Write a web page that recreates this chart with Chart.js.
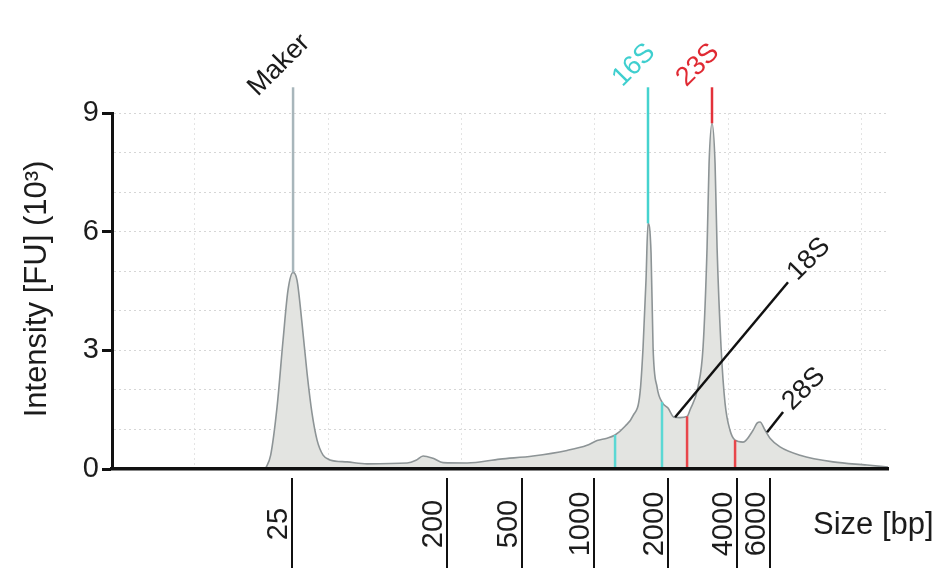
<!DOCTYPE html>
<html><head><meta charset="utf-8">
<script src="https://cdn.jsdelivr.net/npm/chart.js@4/dist/chart.umd.min.js"></script>
<style>html,body{margin:0;padding:0;background:#fff}canvas{display:block}</style>
</head><body>
<canvas id="c" width="944" height="568"></canvas>
<script>
// ---- data (migration time in s, intensity in 10^3 FU) ----
const traceTime = [25.3,25.7,26.18,26.63,27.0,27.38,27.68,28.05,28.43,28.8,29.18,29.63,30.15,31.43,32.93,35.93,36.6,37.13,37.88,38.63,40.43,42.9,45.38,47.93,49.43,50.18,50.93,51.53,52.28,52.88,53.4,53.63,53.85,54.0,54.23,54.38,54.68,55.05,55.5,55.95,56.4,56.93,57.15,57.75,58.13,58.43,58.58,58.8,59.03,59.18,59.48,59.78,60.15,60.53,61.13,61.88,62.18,62.4,62.78,63.15,63.9,65.4,67.88,70.43,72.0];
const traceIntensity = [0,0.35,1.57,3.26,4.52,4.97,4.77,3.69,2.42,1.41,0.73,0.35,0.23,0.18,0.13,0.15,0.22,0.33,0.27,0.16,0.15,0.25,0.33,0.47,0.6,0.72,0.78,0.86,1.08,1.35,1.92,3.08,4.77,6.21,5.45,3.08,2.07,1.69,1.54,1.31,1.3,1.33,1.49,2.07,3.08,5.6,7.72,8.74,7.72,5.6,3.08,1.66,0.98,0.73,0.68,0.98,1.16,1.19,0.98,0.78,0.56,0.35,0.18,0.1,0.05];
const xGridTicks = [20,30,40,50,60,70];
const yTickValues = [0,1,2,3,4,5,6,7,8,9];
const yLabeledTicks = [0,3,6,9];
const sizeLabels = ['25','200','500','1000','2000','4000','6000'];
const sizeTimes = [27.3,38.93,44.55,49.95,55.5,60.68,63.15];
const peakLabels = ['Maker','16S','23S'];
const peakTimes = [27.38,54.0,58.8];
const peakTops = [4.97,6.21,8.74];
const peakLineEnd = 9.65;
const fractionTimes = [51.53,55.05,56.93,60.53];
const fractionTops = [0.86,1.69,1.33,0.73];
const bandLabels = ['18S','28S'];
const bandFromTime = [56.03,62.93];
const bandFromValue = [1.31,0.93];
const bandToTime = [64.5,64.13];
const bandToValue = [4.72,1.44];

// ---- styles ----
const FONT = '"Liberation Sans", Arial, Helvetica, sans-serif';
const peakColors = ['#a8b6bb','#45d3cf','#e3313a'];
const peakTextColors = ['#1a1a1a','#3fcfcf','#e02a33'];
const fractionColors = ['#5bd8d4','#5bd8d4','#e8464b','#e8464b'];

const datasets = [];
datasets.push({
  data: traceTime.map((t,i)=>({x:t,y:traceIntensity[i]})),
  borderColor:'#8d9496', borderWidth:1.6, backgroundColor:'#e3e4e1',
  fill:'origin', pointRadius:0, cubicInterpolationMode:'monotone', order:10
});
peakTimes.forEach((t,i)=>datasets.push({
  data:[{x:t,y:peakTops[i]},{x:t,y:peakLineEnd}],
  borderColor:peakColors[i], borderWidth:2.5, pointRadius:0, fill:false, clip:false, order:1
}));
fractionTimes.forEach((t,i)=>datasets.push({
  data:[{x:t,y:0},{x:t,y:fractionTops[i]}],
  borderColor:fractionColors[i], borderWidth:2.5, pointRadius:0, fill:false, order:1
}));
bandLabels.forEach((l,i)=>datasets.push({
  data:[{x:bandFromTime[i],y:bandFromValue[i]},{x:bandToTime[i],y:bandToValue[i]}],
  borderColor:'#111', borderWidth:2.5, pointRadius:0, fill:false, clip:false, order:0
}));

const textPlugin = {
  id:'texts',
  afterDraw(chart){
    const {ctx, scales:{x,y}} = chart;
    ctx.save();
    ctx.fillStyle = '#1c1c1c';
    // y title
    ctx.save();
    ctx.font = `31px ${FONT}`;
    ctx.translate(37, (y.top+y.bottom)/2 - 2);
    ctx.rotate(-Math.PI/2);
    ctx.textAlign='center'; ctx.textBaseline='middle';
    ctx.fillText('Intensity [FU] (10\u00B3)',0,0);
    ctx.restore();
    // size ladder
    ctx.strokeStyle='#111'; ctx.lineWidth=2;
    sizeTimes.forEach((t,i)=>{
      const px = Math.round(x.getPixelForValue(t));
      ctx.beginPath(); ctx.moveTo(px, y.bottom+9); ctx.lineTo(px, chart.height); ctx.stroke();
      ctx.save();
      ctx.font = `29px ${FONT}`;
      ctx.translate(px-5, 524);
      ctx.rotate(-Math.PI/2);
      ctx.textAlign='center'; ctx.textBaseline='alphabetic';
      ctx.fillText(sizeLabels[i],0,0);
      ctx.restore();
    });
    ctx.font = `31px ${FONT}`;
    ctx.textAlign='left'; ctx.textBaseline='middle';
    ctx.fillText('Size [bp]', 813, 525);
    // peak labels
    peakLabels.forEach((l,i)=>{
      const px = x.getPixelForValue(peakTimes[i]);
      const py = y.getPixelForValue(peakLineEnd);
      ctx.save();
      ctx.fillStyle = peakTextColors[i];
      ctx.font = `27px ${FONT}`;
      ctx.translate(px-14, py-22);
      ctx.rotate(-Math.PI/4);
      ctx.textAlign='center'; ctx.textBaseline='middle';
      ctx.fillText(l,0,0);
      ctx.restore();
    });
    // band labels
    bandLabels.forEach((l,i)=>{
      const px = x.getPixelForValue(bandToTime[i]);
      const py = y.getPixelForValue(bandToValue[i]);
      ctx.save();
      ctx.font = `27px ${FONT}`;
      ctx.translate(px+4, py-6);
      ctx.rotate(-Math.PI/4);
      ctx.textAlign='left'; ctx.textBaseline='middle';
      ctx.fillText(l,0,0);
      ctx.restore();
    });
    ctx.restore();
  }
};

new Chart(document.getElementById('c'), {
  type:'line',
  data:{datasets},
  options:{
    responsive:false, animation:false, devicePixelRatio:1,
    layout:{padding:{top:113,right:56,left:0,bottom:0}},
    plugins:{legend:{display:false}, tooltip:{enabled:false}},
    scales:{
      x:{
        type:'linear', min:13.8, max:72,
        afterBuildTicks(s){ s.ticks = xGridTicks.map(v=>({value:v})); },
        afterFit(s){ s.height = 99; },
        ticks:{display:false},
        grid:{color:'#e4e4e4', lineWidth:1, drawTicks:false},
        border:{display:true, color:'#111', width:3.5, dash:[2,3], z:1}
      },
      y:{
        min:0, max:9,
        afterBuildTicks(s){ s.ticks = yTickValues.map(v=>({value:v})); },
        afterFit(s){ s.width = 112; },
        ticks:{
          font:{family:FONT, size:29}, color:'#1c1c1c', padding:3,
          callback:(v)=> yLabeledTicks.includes(v) ? String(v) : ''
        },
        grid:{
          color:(c)=> c.tick && c.tick.value===0 ? 'rgba(0,0,0,0)' : '#d6d6d6',
          lineWidth:1, tickLength:10, tickWidth:3,
          tickColor:(c)=> c.tick && yLabeledTicks.includes(c.tick.value) ? '#111' : 'rgba(0,0,0,0)'
        },
        border:{display:true, color:'#111', width:3, dash:[2,3], z:1}
      }
    }
  },
  plugins:[textPlugin]
});
</script>
</body></html>
